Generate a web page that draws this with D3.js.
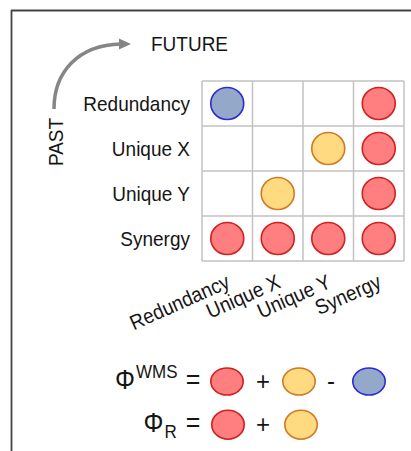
<!DOCTYPE html>
<html><head><meta charset="utf-8">
<script src="https://cdn.jsdelivr.net/npm/d3@7"></script>
<style>
html,body{margin:0;padding:0;background:#fff;}
svg{display:block;font-family:"Liberation Sans",Arial,sans-serif;}
</style></head>
<body>
<svg id="chart" width="411" height="451"></svg>
<script>
// ---- data ----
const rows = ["Redundancy", "Unique X", "Unique Y", "Synergy"];   // PAST
const cols = ["Redundancy", "Unique X", "Unique Y", "Synergy"];   // FUTURE
const atomRow  = ["Redundancy","Redundancy","Unique X","Unique X","Unique Y","Unique Y","Synergy","Synergy","Synergy","Synergy"];
const atomCol  = ["Redundancy","Synergy","Unique Y","Synergy","Unique X","Synergy","Redundancy","Unique X","Unique Y","Synergy"];
const atomType = ["blue","red","yellow","red","yellow","red","red","red","red","red"];
const phiWMSTerms = ["red","+","yellow","-","blue"];
const phiRTerms   = ["red","+","yellow"];
const pastLabel = "PAST", futureLabel = "FUTURE";

// ---- styles ----
const fills   = {red:"#ff7e80", yellow:"#ffda80", blue:"#94a8c9"};
const strokes = {red:"#d0201f", yellow:"#d07a24", blue:"#2b2bd0"};
const SY = 1.1; // vertical stretch of text seen in reference
const ink = "#151515";

const svg = d3.select("#chart");

// frame
svg.append("line").attr("x1",11).attr("x2",411).attr("y1",10.5).attr("y2",10.5)
  .attr("stroke","#444").attr("stroke-width",1.8);
svg.append("line").attr("x1",11.5).attr("x2",11.5).attr("y1",10).attr("y2",451)
  .attr("stroke","#444").attr("stroke-width",1.8);

const x = d3.scaleBand().domain(cols).range([202, 404]);
const y = d3.scaleBand().domain(rows).range([81, 261]);

// grid
const g = svg.append("g");
const xs = cols.map(c => x(c)).concat([x.range()[1]]);
const ys = rows.map(r => y(r)).concat([y.range()[1]]);
g.selectAll("line.v").data(xs).join("line").attr("class","v")
  .attr("x1",d=>d).attr("x2",d=>d).attr("y1",y.range()[0]).attr("y2",y.range()[1])
  .attr("stroke","#c2c2c2").attr("stroke-width",1.5);
g.selectAll("line.h").data(ys).join("line").attr("class","h")
  .attr("y1",d=>d).attr("y2",d=>d).attr("x1",x.range()[0]).attr("x2",x.range()[1])
  .attr("stroke","#c2c2c2").attr("stroke-width",1.5);

// atoms
const atoms = atomRow.map((r,i)=>({r, c:atomCol[i], t:atomType[i]}));
g.selectAll("ellipse.atom").data(atoms).join("ellipse").attr("class","atom")
  .attr("cx",d=>x(d.c)+x.bandwidth()/2)
  .attr("cy",d=>y(d.r)+y.bandwidth()/2)
  .attr("rx",16.5).attr("ry",16)
  .attr("fill",d=>fills[d.t]).attr("stroke",d=>strokes[d.t]).attr("stroke-width",1.6);

// row labels
svg.selectAll("text.row").data(rows).join("text").attr("class","row")
  .attr("transform",d=>`translate(190,${y(d)+y.bandwidth()/2+7.5}) scale(1,${SY})`)
  .attr("text-anchor","end").attr("font-size",19).attr("fill",ink).text(d=>d);

// column labels
svg.selectAll("text.col").data(cols).join("text").attr("class","col")
  .attr("transform",d=>`translate(${x(d)+x.bandwidth()/2+4},287) rotate(-24) scale(1,${SY})`)
  .attr("text-anchor","end").attr("font-size",19).attr("fill",ink).text(d=>d);

// FUTURE / PAST
svg.append("text").attr("transform",`translate(151,51) scale(1,${SY})`)
  .attr("font-size",19).attr("fill",ink).text(futureLabel);
svg.append("text").attr("transform",`translate(63,142) rotate(-90) scale(1,${SY})`)
  .attr("text-anchor","middle").attr("font-size",19).attr("fill",ink).text(pastLabel);

// curved arrow
svg.append("path").attr("d","M54,109 C54,72 78,45 121,44")
  .attr("fill","none").attr("stroke","#858585").attr("stroke-width",3.5);
svg.append("path").attr("d","M131,44 L119,38.5 L119,49.5 Z").attr("fill","#858585");

// formulas
function term(row, terms, cy, ry){
  const cxs = [227, 263, 299, 331, 369];
  terms.forEach((t,i)=>{
    if (t === "+" || t === "-") {
      svg.append("text").attr("transform",`translate(${cxs[i]},${cy+8}) scale(1,${SY})`)
        .attr("text-anchor","middle").attr("font-size",24).attr("fill",ink).text(t);
    } else {
      svg.append("ellipse").attr("cx",cxs[i]+(row===1&&i===2?2:0)+(row===1&&i===0?1:0)).attr("cy",cy)
        .attr("rx",16.2).attr("ry",ry)
        .attr("fill",fills[t]).attr("stroke",strokes[t]).attr("stroke-width",1.6);
    }
  });
}
// Phi^WMS
const t1 = svg.append("text").attr("transform",`translate(115,389) scale(1,${SY})`).attr("font-size",25).attr("fill",ink);
t1.append("tspan").text("Φ");
t1.append("tspan").attr("font-size",17).attr("dy",-10).attr("dx",1).text("WMS");
svg.append("text").attr("transform",`translate(193,389) scale(1,${SY})`).attr("text-anchor","middle").attr("font-size",25).attr("fill",ink).text("=");
term(0, phiWMSTerms, 381.5, 13.5);
// Phi_R
const t2 = svg.append("text").attr("transform",`translate(143.5,432) scale(1,${SY})`).attr("font-size",25).attr("fill",ink);
t2.append("tspan").text("Φ");
t2.append("tspan").attr("font-size",17).attr("dy",5.5).attr("dx",1).text("R");
svg.append("text").attr("transform",`translate(193,432) scale(1,${SY})`).attr("text-anchor","middle").attr("font-size",25).attr("fill",ink).text("=");
term(1, phiRTerms, 424.7, 14.5);
</script>
</body></html>
